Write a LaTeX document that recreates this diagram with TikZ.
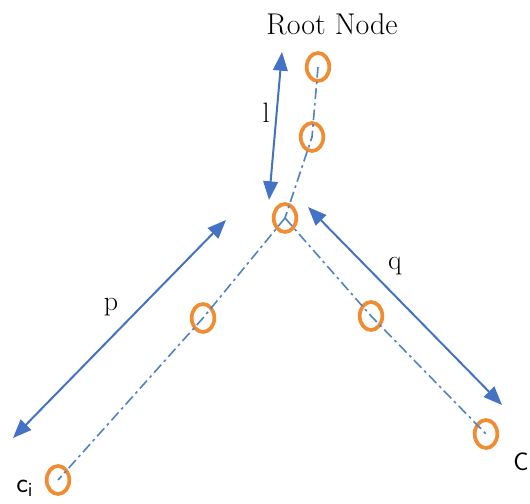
\documentclass[tikz,border=0pt]{standalone}
\usepackage{tikz}
\usetikzlibrary{shapes.geometric}
\usetikzlibrary{arrows.meta}
\usepackage{xcolor}

\definecolor{linkblue}{RGB}{80,130,200}
\definecolor{spanblue}{RGB}{68,114,196}
\definecolor{beadorange}{RGB}{240,140,50}

\begin{document}
\begin{tikzpicture}[x=0.75pt,y=0.75pt,yscale=-1,xscale=1,
  bead/.style={ellipse,draw=beadorange,line width=2.8pt,inner sep=0pt,minimum width=17pt,minimum height=21pt},
  link/.style={color=linkblue,line width=1.2pt,dash pattern={on 8pt off 3pt on 2pt off 3pt}},
  span/.style={color=spanblue,line width=1.5pt,{Triangle[length=14pt,width=11pt]}-{Triangle[length=14pt,width=11pt]}},
  lbl/.style={inner sep=0.75pt,font=\fontsize{21}{23}\selectfont}]
%set diagram size
\useasboundingbox (0,0) rectangle (530,503);

%Beads
\node [bead] (root) at (318,67) {};
\node [bead] (up) at (312,137) {};
\node [bead] (joint) at (285,218) {};
\node [bead] (lmid) at (203,318) {};
\node [bead] (rmid) at (371,316) {};
\node [bead] (ci) at (58,480) {};
\node [bead] (cj) at (486,434) {};

%Dash dot links
\draw [link] (root.center) -- (up.center) -- (joint.center);
\draw [link] (joint.center) -- (lmid.center) -- (ci.center);
\draw [link] (joint.center) -- (rmid.center) -- (cj.center);

%Arrow ends
\coordinate (ltop) at (282,52);
\coordinate (lbot) at (269,200);
\coordinate (ptop) at (226,220);
\coordinate (pbot) at (13,438);
\coordinate (qtop) at (308,207);
\coordinate (qbot) at (502,405);

%Arrows
\draw [span] (lbot) -- (ltop);
\draw [span] (pbot) -- (ptop);
\draw [span] (qtop) -- (qbot);

% Text Node
\node [lbl,font=\fontsize{22.5}{25}\selectfont] (roottxt) at (332,24) {Root Node};
% Text Node
\node [lbl] (ltxt) at (266,113) {l};
% Text Node
\node [lbl] (ptxt) at (111,307) {p};
% Text Node
\node [lbl] (qtxt) at (395,266) {q};
% Text Node
\node [lbl,anchor=north west,font=\fontsize{21}{23}\sffamily] (citxt) at (15,479) {c$_{\textsf{\fontsize{15}{17}\selectfont i}}$};
% Text Node
\node [lbl,anchor=north west,font=\fontsize{19}{21}\sffamily] (cjtxt) at (512,452) {C};

\end{tikzpicture}
\end{document}
